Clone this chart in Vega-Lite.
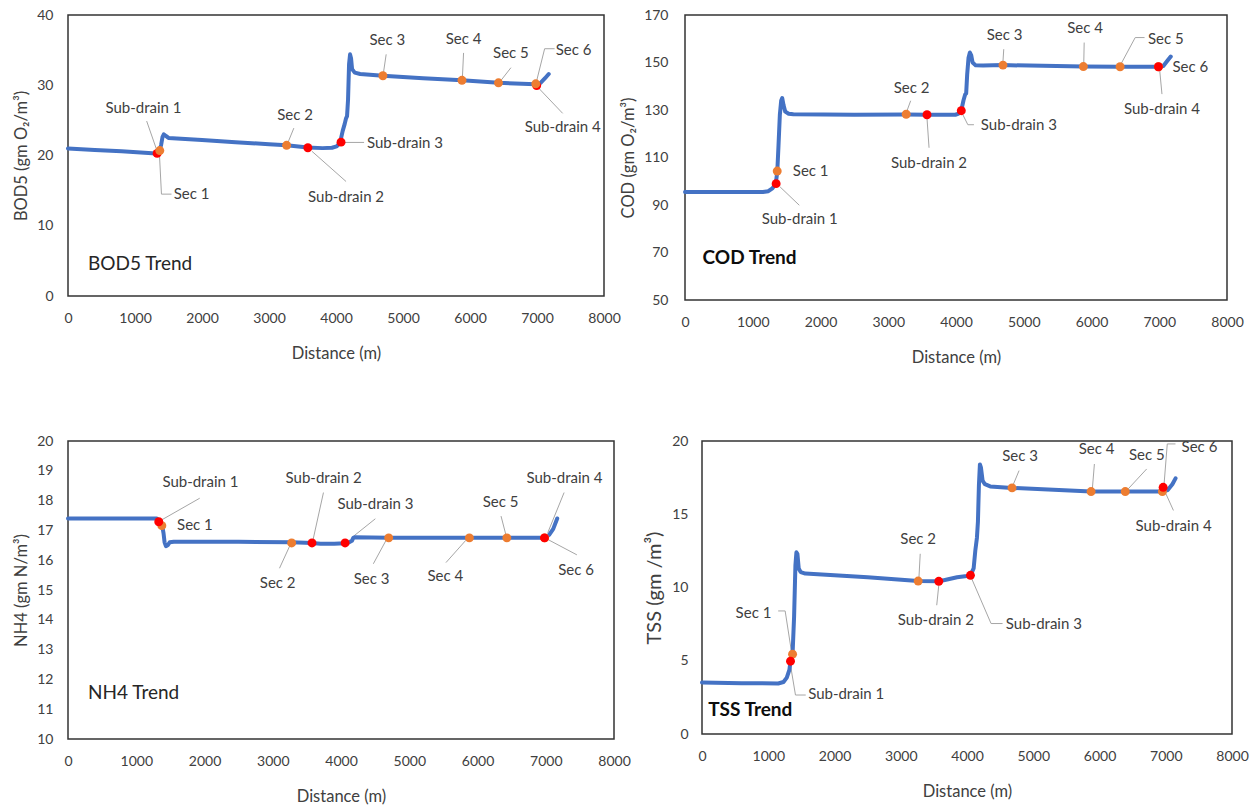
{
  "$schema": "https://vega.github.io/schema/vega-lite/v6.json",
  "padding": {"left": 13, "top": 7, "right": 5, "bottom": 5},
  "background": "white",
  "config": {
    "font": "Lato",
    "view": {"stroke": "#333333", "strokeWidth": 1.5},
    "axis": {"domain": false, "ticks": false, "grid": false, "labelFont": "Lato", "labelFontSize": 14, "labelColor": "#404040", "titleFont": "Lato", "titleFontSize": 16.5, "titleFontWeight": "normal", "titleColor": "#404040", "labelOverlap": false},
    "axisX": {"labelFlush": false, "labelPadding": 15, "titlePadding": 20, "format": "d"},
    "axisY": {"labelPadding": 15, "titlePadding": 7},
    "text": {"font": "Lato", "fontSize": 15, "color": "#404040"},
    "rule": {"color": "#A6A6A6", "strokeWidth": 1},
    "line": {"color": "#4472C4", "strokeWidth": 4, "strokeCap": "round", "strokeJoin": "round"},
    "circle": {"size": 80, "opacity": 1}
  },
  "datasets": {
    "bod_line": [
      {"d": 0, "v": 21.0}, {"d": 400, "v": 20.8}, {"d": 800, "v": 20.6}, {"d": 1200, "v": 20.35}, {"d": 1317, "v": 20.3}, {"d": 1340, "v": 20.4}, {"d": 1365, "v": 20.7}, {"d": 1390, "v": 21.5}, {"d": 1410, "v": 22.6}, {"d": 1430, "v": 23.0}, {"d": 1460, "v": 22.8}, {"d": 1500, "v": 22.5}, {"d": 2000, "v": 22.2}, {"d": 2500, "v": 21.9}, {"d": 3000, "v": 21.6}, {"d": 3263, "v": 21.45}, {"d": 3580, "v": 21.15}, {"d": 3800, "v": 21.05}, {"d": 3940, "v": 21.1}, {"d": 4010, "v": 21.3}, {"d": 4060, "v": 21.8}, {"d": 4100, "v": 23.5}, {"d": 4130, "v": 24.5}, {"d": 4150, "v": 25.3}, {"d": 4165, "v": 25.6}, {"d": 4180, "v": 28.0}, {"d": 4195, "v": 33.0}, {"d": 4210, "v": 34.4}, {"d": 4225, "v": 33.8}, {"d": 4240, "v": 32.3}, {"d": 4280, "v": 31.8}, {"d": 4360, "v": 31.6}, {"d": 4700, "v": 31.35}, {"d": 5300, "v": 31.0}, {"d": 5880, "v": 30.7}, {"d": 6425, "v": 30.35}, {"d": 6980, "v": 30.15}, {"d": 7050, "v": 30.3}, {"d": 7120, "v": 31.0}, {"d": 7175, "v": 31.6}
    ],
    "bod_pts": [
      {"d": 1330, "v": 20.3, "k": "drain"}, {"d": 1370, "v": 20.7, "k": "sec"}, {"d": 3263, "v": 21.45, "k": "sec"}, {"d": 3580, "v": 21.1, "k": "drain"}, {"d": 4075, "v": 21.9, "k": "drain"}, {"d": 4700, "v": 31.35, "k": "sec"}, {"d": 5880, "v": 30.7, "k": "sec"}, {"d": 6425, "v": 30.35, "k": "sec"}, {"d": 6995, "v": 29.95, "k": "drain"}, {"d": 6982, "v": 30.2, "k": "sec"}
    ],
    "bod_lab": [
      {"d": 1126, "v": 26.8, "t": "Sub-drain 1"}, {"d": 1844, "v": 14.5, "t": "Sec 1"}, {"d": 3389, "v": 25.7, "t": "Sec 2"}, {"d": 4150, "v": 14.1, "t": "Sub-drain 2"}, {"d": 5030, "v": 21.8, "t": "Sub-drain 3"}, {"d": 4766, "v": 36.4, "t": "Sec 3"}, {"d": 5904, "v": 36.6, "t": "Sec 4"}, {"d": 6611, "v": 34.6, "t": "Sec 5"}, {"d": 7545, "v": 35.0, "t": "Sec 6"}, {"d": 7383, "v": 24.0, "t": "Sub-drain 4"}
    ],
    "bod_lead": [
      {"d": 1174, "v": 24.9, "d2": 1320, "v2": 20.9}, {"d": 1545, "v": 14.5, "d2": 1395, "v2": 14.5}, {"d": 1395, "v": 14.5, "d2": 1365, "v2": 20.1}, {"d": 3371, "v": 23.9, "d2": 3281, "v2": 21.8}, {"d": 4150, "v": 16.3, "d2": 3641, "v2": 20.6}, {"d": 4419, "v": 21.86, "d2": 4132, "v2": 21.86}, {"d": 4749, "v": 34.4, "d2": 4707, "v2": 31.7}, {"d": 5904, "v": 34.6, "d2": 5886, "v2": 31.0}, {"d": 6611, "v": 32.5, "d2": 6455, "v2": 30.6}, {"d": 7263, "v": 35.2, "d2": 7114, "v2": 35.2}, {"d": 7114, "v": 35.2, "d2": 6994, "v2": 30.6}, {"d": 7383, "v": 26.0, "d2": 7024, "v2": 29.6}
    ],
    "cod_line": [
      {"d": 0, "v": 95.5}, {"d": 600, "v": 95.5}, {"d": 1150, "v": 95.5}, {"d": 1230, "v": 95.8}, {"d": 1290, "v": 97.0}, {"d": 1340, "v": 99.0}, {"d": 1362, "v": 104.0}, {"d": 1380, "v": 115.0}, {"d": 1400, "v": 128.0}, {"d": 1420, "v": 134.0}, {"d": 1435, "v": 135.0}, {"d": 1455, "v": 132.0}, {"d": 1480, "v": 129.3}, {"d": 1530, "v": 128.4}, {"d": 1600, "v": 128.2}, {"d": 2500, "v": 128.0}, {"d": 3265, "v": 128.1}, {"d": 3572, "v": 128.0}, {"d": 3990, "v": 128.0}, {"d": 4040, "v": 128.5}, {"d": 4078, "v": 129.8}, {"d": 4110, "v": 134.0}, {"d": 4135, "v": 136.5}, {"d": 4150, "v": 137.0}, {"d": 4165, "v": 145.0}, {"d": 4185, "v": 152.0}, {"d": 4205, "v": 154.2}, {"d": 4225, "v": 153.0}, {"d": 4245, "v": 150.0}, {"d": 4290, "v": 148.8}, {"d": 4400, "v": 148.7}, {"d": 4693, "v": 148.9}, {"d": 5880, "v": 148.3}, {"d": 6422, "v": 148.2}, {"d": 6988, "v": 148.2}, {"d": 7060, "v": 148.5}, {"d": 7120, "v": 150.7}, {"d": 7170, "v": 152.5}
    ],
    "cod_pts": [
      {"d": 1345, "v": 99.0, "k": "drain"}, {"d": 1361, "v": 104.3, "k": "sec"}, {"d": 3265, "v": 128.2, "k": "sec"}, {"d": 3572, "v": 128.0, "k": "drain"}, {"d": 4078, "v": 129.7, "k": "drain"}, {"d": 4693, "v": 148.9, "k": "sec"}, {"d": 5880, "v": 148.3, "k": "sec"}, {"d": 6422, "v": 148.2, "k": "sec"}, {"d": 6988, "v": 148.2, "k": "sec"}, {"d": 6988, "v": 148.2, "k": "drain"}
    ],
    "cod_lab": [
      {"d": 1855, "v": 104.3, "t": "Sec 1"}, {"d": 1693, "v": 84.3, "t": "Sub-drain 1"}, {"d": 3343, "v": 139.1, "t": "Sec 2"}, {"d": 3602, "v": 107.6, "t": "Sub-drain 2"}, {"d": 4928, "v": 123.8, "t": "Sub-drain 3"}, {"d": 4717, "v": 161.5, "t": "Sec 3"}, {"d": 5904, "v": 164.4, "t": "Sec 4"}, {"d": 7096, "v": 160.1, "t": "Sec 5"}, {"d": 7458, "v": 148.3, "t": "Sec 6"}, {"d": 7040, "v": 130.4, "t": "Sub-drain 4"}
    ],
    "cod_lead": [
      {"d": 1687, "v": 89.9, "d2": 1404, "v2": 97.6}, {"d": 3331, "v": 133.9, "d2": 3277, "v2": 129.7}, {"d": 3602, "v": 114.1, "d2": 3572, "v2": 126.5}, {"d": 4265, "v": 123.8, "d2": 4175, "v2": 123.8}, {"d": 4175, "v": 123.8, "d2": 4096, "v2": 128.3}, {"d": 4705, "v": 155.6, "d2": 4693, "v2": 150.3}, {"d": 5892, "v": 158.4, "d2": 5886, "v2": 149.7}, {"d": 6783, "v": 160.5, "d2": 6645, "v2": 160.5}, {"d": 6645, "v": 160.5, "d2": 6434, "v2": 149.3}, {"d": 7040, "v": 136.7, "d2": 7006, "v2": 146.9}
    ],
    "nh4_line": [
      {"d": 0, "v": 17.4}, {"d": 700, "v": 17.4}, {"d": 1300, "v": 17.4}, {"d": 1330, "v": 17.3}, {"d": 1360, "v": 17.2}, {"d": 1385, "v": 17.1}, {"d": 1400, "v": 16.9}, {"d": 1415, "v": 16.6}, {"d": 1435, "v": 16.47}, {"d": 1460, "v": 16.5}, {"d": 1490, "v": 16.6}, {"d": 1550, "v": 16.62}, {"d": 2500, "v": 16.62}, {"d": 3277, "v": 16.6}, {"d": 3575, "v": 16.58}, {"d": 3700, "v": 16.55}, {"d": 3900, "v": 16.55}, {"d": 4055, "v": 16.57}, {"d": 4120, "v": 16.6}, {"d": 4160, "v": 16.65}, {"d": 4180, "v": 16.75}, {"d": 4200, "v": 16.77}, {"d": 4700, "v": 16.75}, {"d": 5880, "v": 16.75}, {"d": 6430, "v": 16.75}, {"d": 6981, "v": 16.75}, {"d": 7050, "v": 16.85}, {"d": 7110, "v": 17.05}, {"d": 7168, "v": 17.4}
    ],
    "nh4_pts": [
      {"d": 1375, "v": 17.16, "k": "sec"}, {"d": 1330, "v": 17.29, "k": "drain"}, {"d": 3277, "v": 16.58, "k": "sec"}, {"d": 3575, "v": 16.58, "k": "drain"}, {"d": 4060, "v": 16.58, "k": "drain"}, {"d": 4699, "v": 16.75, "k": "sec"}, {"d": 5881, "v": 16.75, "k": "sec"}, {"d": 6430, "v": 16.75, "k": "sec"}, {"d": 6985, "v": 16.75, "k": "sec"}, {"d": 6981, "v": 16.75, "k": "drain"}
    ],
    "nh4_lab": [
      {"d": 1940, "v": 18.61, "t": "Sub-drain 1"}, {"d": 1860, "v": 17.18, "t": "Sec 1"}, {"d": 3745, "v": 18.76, "t": "Sub-drain 2"}, {"d": 4505, "v": 17.9, "t": "Sub-drain 3"}, {"d": 3072, "v": 15.25, "t": "Sec 2"}, {"d": 4448, "v": 15.36, "t": "Sec 3"}, {"d": 5529, "v": 15.47, "t": "Sec 4"}, {"d": 6337, "v": 17.95, "t": "Sec 5"}, {"d": 7274, "v": 18.76, "t": "Sub-drain 4"}, {"d": 7444, "v": 15.67, "t": "Sec 6"}
    ],
    "nh4_lead": [
      {"d": 1930, "v": 18.08, "d2": 1363, "v2": 17.34}, {"d": 3743, "v": 18.27, "d2": 3585, "v2": 16.63}, {"d": 4503, "v": 17.39, "d2": 4181, "v2": 16.8}, {"d": 3099, "v": 15.73, "d2": 3257, "v2": 16.52}, {"d": 4474, "v": 15.88, "d2": 4661, "v2": 16.67}, {"d": 5538, "v": 15.92, "d2": 5830, "v2": 16.67}, {"d": 6345, "v": 17.48, "d2": 6415, "v2": 16.86}, {"d": 7269, "v": 18.27, "d2": 7029, "v2": 16.92}, {"d": 7456, "v": 16.18, "d2": 7035, "v2": 16.69}
    ],
    "tss_line": [
      {"d": 0, "v": 3.52}, {"d": 600, "v": 3.47}, {"d": 1150, "v": 3.45}, {"d": 1230, "v": 3.55}, {"d": 1280, "v": 3.85}, {"d": 1320, "v": 4.4}, {"d": 1336, "v": 4.97}, {"d": 1367, "v": 5.45}, {"d": 1390, "v": 8.0}, {"d": 1410, "v": 11.5}, {"d": 1425, "v": 12.4}, {"d": 1440, "v": 12.3}, {"d": 1460, "v": 11.3}, {"d": 1490, "v": 11.05}, {"d": 1560, "v": 10.95}, {"d": 2500, "v": 10.7}, {"d": 3263, "v": 10.45}, {"d": 3574, "v": 10.42}, {"d": 3700, "v": 10.55}, {"d": 3850, "v": 10.7}, {"d": 4000, "v": 10.78}, {"d": 4052, "v": 10.83}, {"d": 4100, "v": 11.3}, {"d": 4125, "v": 12.5}, {"d": 4150, "v": 13.4}, {"d": 4165, "v": 14.5}, {"d": 4180, "v": 17.0}, {"d": 4195, "v": 18.4}, {"d": 4210, "v": 18.2}, {"d": 4235, "v": 17.3}, {"d": 4270, "v": 17.05}, {"d": 4350, "v": 16.9}, {"d": 4680, "v": 16.8}, {"d": 5873, "v": 16.55}, {"d": 6389, "v": 16.55}, {"d": 6949, "v": 16.55}, {"d": 7030, "v": 16.65}, {"d": 7100, "v": 17.05}, {"d": 7148, "v": 17.45}
    ],
    "tss_pts": [
      {"d": 1367, "v": 5.45, "k": "sec"}, {"d": 1336, "v": 4.97, "k": "drain"}, {"d": 3263, "v": 10.44, "k": "sec"}, {"d": 3574, "v": 10.42, "k": "drain"}, {"d": 4052, "v": 10.83, "k": "drain"}, {"d": 4680, "v": 16.8, "k": "sec"}, {"d": 5873, "v": 16.55, "k": "sec"}, {"d": 6389, "v": 16.55, "k": "sec"}, {"d": 6949, "v": 16.55, "k": "sec"}, {"d": 6961, "v": 16.84, "k": "drain"}
    ],
    "tss_lab": [
      {"d": 777, "v": 8.29, "t": "Sec 1"}, {"d": 2176, "v": 2.7, "t": "Sub-drain 1"}, {"d": 3263, "v": 13.28, "t": "Sec 2"}, {"d": 3530, "v": 7.76, "t": "Sub-drain 2"}, {"d": 5160, "v": 7.54, "t": "Sub-drain 3"}, {"d": 4800, "v": 18.96, "t": "Sec 3"}, {"d": 5956, "v": 19.46, "t": "Sec 4"}, {"d": 6715, "v": 19.07, "t": "Sec 5"}, {"d": 7509, "v": 19.61, "t": "Sec 6"}, {"d": 7118, "v": 14.23, "t": "Sub-drain 4"}
    ],
    "tss_lead": [
      {"d": 1150, "v": 8.4, "d2": 1255, "v2": 8.4}, {"d": 1255, "v": 8.4, "d2": 1355, "v2": 5.49}, {"d": 1566, "v": 2.66, "d2": 1411, "v2": 2.66}, {"d": 1411, "v": 2.66, "d2": 1336, "v2": 4.7}, {"d": 3294, "v": 12.3, "d2": 3275, "v2": 10.7}, {"d": 3543, "v": 8.79, "d2": 3574, "v2": 10.15}, {"d": 4537, "v": 7.54, "d2": 4363, "v2": 7.54}, {"d": 4363, "v": 7.54, "d2": 4071, "v2": 10.6}, {"d": 4786, "v": 17.98, "d2": 4692, "v2": 16.96}, {"d": 5923, "v": 18.43, "d2": 5892, "v2": 16.73}, {"d": 6712, "v": 18.09, "d2": 6433, "v2": 16.73}, {"d": 7147, "v": 19.8, "d2": 7023, "v2": 19.8}, {"d": 7023, "v": 19.8, "d2": 6973, "v2": 16.96}, {"d": 7116, "v": 15.26, "d2": 6992, "v2": 16.5}
    ]
  },
  "spacing": 66,
  "vconcat": [
    {
      "bounds": "flush",
      "spacing": 81,
      "hconcat": [
        {
          "width": 536, "height": 281,
          "encoding": {
            "x": {"field": "d", "type": "quantitative", "scale": {"domain": [0, 8000], "nice": false, "zero": false}, "axis": {"values": [0, 1000, 2000, 3000, 4000, 5000, 6000, 7000, 8000], "title": "Distance (m)"}},
            "y": {"field": "v", "type": "quantitative", "scale": {"domain": [0, 40], "nice": false, "zero": false}, "axis": {"values": [0, 10, 20, 30, 40], "title": "BOD5 (gm O₂/m³)"}}
          },
          "layer": [
            {"data": {"name": "bod_lead"}, "mark": {"type": "rule"}, "encoding": {"x2": {"field": "d2"}, "y2": {"field": "v2"}}},
            {"data": {"name": "bod_line"}, "mark": {"type": "line"}, "encoding": {}},
            {"data": {"name": "bod_pts"}, "mark": {"type": "circle"}, "encoding": {"color": {"field": "k", "type": "nominal", "scale": {"domain": ["sec", "drain"], "range": ["#ED7D31", "#FF0000"]}, "legend": null}}},
            {"data": {"name": "bod_lab"}, "mark": {"type": "text"}, "encoding": {"text": {"field": "t"}}},
            {"data": {"values": [{"d": 299, "v": 4.6, "t": "BOD5 Trend"}]}, "mark": {"type": "text", "align": "left", "fontSize": 19, "color": "#262626"}, "encoding": {"text": {"field": "t"}}}
          ]
        },
        {
          "width": 542, "height": 285,
          "encoding": {
            "x": {"field": "d", "type": "quantitative", "scale": {"domain": [0, 8000], "nice": false, "zero": false}, "axis": {"values": [0, 1000, 2000, 3000, 4000, 5000, 6000, 7000, 8000], "title": "Distance (m)"}},
            "y": {"field": "v", "type": "quantitative", "scale": {"domain": [50, 170], "nice": false, "zero": false}, "axis": {"values": [50, 70, 90, 110, 130, 150, 170], "title": "COD (gm O₂/m³)", "labelPadding": 17}}
          },
          "layer": [
            {"data": {"name": "cod_lead"}, "mark": {"type": "rule"}, "encoding": {"x2": {"field": "d2"}, "y2": {"field": "v2"}}},
            {"data": {"name": "cod_line"}, "mark": {"type": "line"}, "encoding": {}},
            {"data": {"name": "cod_pts"}, "mark": {"type": "circle"}, "encoding": {"color": {"field": "k", "type": "nominal", "scale": {"domain": ["sec", "drain"], "range": ["#ED7D31", "#FF0000"]}, "legend": null}}},
            {"data": {"name": "cod_lab"}, "mark": {"type": "text"}, "encoding": {"text": {"field": "t"}}},
            {"data": {"values": [{"d": 259, "v": 67.8, "t": "COD Trend"}]}, "mark": {"type": "text", "align": "left", "fontSize": 19, "fontWeight": "bold", "color": "#0d0d0d"}, "encoding": {"text": {"field": "t"}}}
          ]
        }
      ]
    },
    {
      "bounds": "flush",
      "spacing": 88,
      "hconcat": [
        {
          "width": 546, "height": 298,
          "encoding": {
            "x": {"field": "d", "type": "quantitative", "scale": {"domain": [0, 8000], "nice": false, "zero": false}, "axis": {"values": [0, 1000, 2000, 3000, 4000, 5000, 6000, 7000, 8000], "title": "Distance (m)"}},
            "y": {"field": "v", "type": "quantitative", "scale": {"domain": [10, 20], "nice": false, "zero": false}, "axis": {"values": [10, 11, 12, 13, 14, 15, 16, 17, 18, 19, 20], "title": "NH4 (gm N/m³)"}}
          },
          "layer": [
            {"data": {"name": "nh4_lead"}, "mark": {"type": "rule"}, "encoding": {"x2": {"field": "d2"}, "y2": {"field": "v2"}}},
            {"data": {"name": "nh4_line"}, "mark": {"type": "line"}, "encoding": {}},
            {"data": {"name": "nh4_pts"}, "mark": {"type": "circle"}, "encoding": {"color": {"field": "k", "type": "nominal", "scale": {"domain": ["sec", "drain"], "range": ["#ED7D31", "#FF0000"]}, "legend": null}}},
            {"data": {"name": "nh4_lab"}, "mark": {"type": "text"}, "encoding": {"text": {"field": "t"}}},
            {"data": {"values": [{"d": 293, "v": 11.55, "t": "NH4 Trend"}]}, "mark": {"type": "text", "align": "left", "fontSize": 19, "color": "#262626"}, "encoding": {"text": {"field": "t"}}}
          ]
        },
        {
          "width": 530, "height": 293,
          "encoding": {
            "x": {"field": "d", "type": "quantitative", "scale": {"domain": [0, 8000], "nice": false, "zero": false}, "axis": {"values": [0, 1000, 2000, 3000, 4000, 5000, 6000, 7000, 8000], "title": "Distance (m)"}},
            "y": {"field": "v", "type": "quantitative", "scale": {"domain": [0, 20], "nice": false, "zero": false}, "axis": {"values": [0, 5, 10, 15, 20], "title": "TSS (gm /m³)", "titleFontSize": 20, "labelPadding": 14}}
          },
          "layer": [
            {"data": {"name": "tss_lead"}, "mark": {"type": "rule"}, "encoding": {"x2": {"field": "d2"}, "y2": {"field": "v2"}}},
            {"data": {"name": "tss_line"}, "mark": {"type": "line"}, "encoding": {}},
            {"data": {"name": "tss_pts"}, "mark": {"type": "circle"}, "encoding": {"color": {"field": "k", "type": "nominal", "scale": {"domain": ["sec", "drain"], "range": ["#ED7D31", "#FF0000"]}, "legend": null}}},
            {"data": {"name": "tss_lab"}, "mark": {"type": "text"}, "encoding": {"text": {"field": "t"}}},
            {"data": {"values": [{"d": 93, "v": 1.63, "t": "TSS Trend"}]}, "mark": {"type": "text", "align": "left", "fontSize": 19, "fontWeight": "bold", "color": "#0d0d0d"}, "encoding": {"text": {"field": "t"}}}
          ]
        }
      ]
    }
  ]
}
